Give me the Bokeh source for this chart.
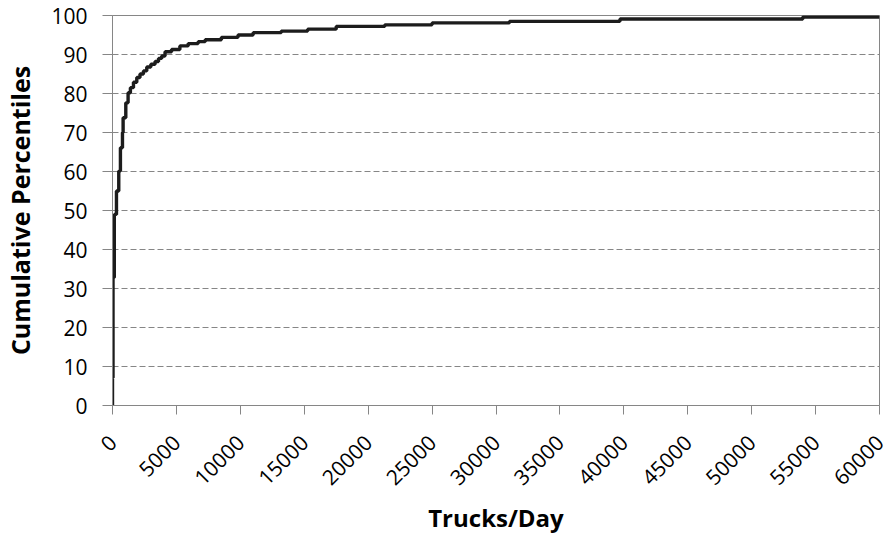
import math
from bokeh.plotting import figure
from bokeh.models import Range1d, FixedTicker, ColumnDataSource
from bokeh.embed import file_html
from bokeh.resources import INLINE

# Data (cumulative distribution, step after each value)
trucks_per_day = [0, 0, 40, 140, 310, 490, 620, 780, 830, 1040,
                  1220, 1400, 1640, 1900, 2150, 2420, 2680, 3000, 3330, 3600,
                  3850, 4110, 4620, 5270, 5920, 6700, 7250, 8520, 9820, 11000,
                  13200, 15270, 17500, 21300, 25000, 31050, 39700, 54000, 60000]
cumulative_pct = [0, 7.1, 32.8, 49.0, 55.0, 60.1, 66.1, 70.0, 73.8, 77.6,
                  80.2, 81.5, 82.9, 84.1, 85.0, 85.8, 86.8, 87.5, 88.2, 89.0,
                  89.6, 90.7, 91.3, 92.2, 92.8, 93.3, 93.8, 94.4, 95.0, 95.6,
                  96.0, 96.5, 97.2, 97.6, 98.1, 98.5, 99.1, 99.6, 99.6]

x_ticks = list(range(0, 60001, 5000))
y_ticks = list(range(0, 101, 10))
x_title = "Trucks/Day"
y_title = "Cumulative Percentiles"

FONT = "Open Sans"
AXIS_COLOR = "#868686"

p = figure(
    frame_width=767, frame_height=390,
    min_border_left=109, min_border_right=10, min_border_top=15, min_border_bottom=112,
    x_range=Range1d(0, 60000), y_range=Range1d(0, 100),
    output_backend="svg", toolbar_location=None,
    background_fill_color="white", border_fill_color="white",
)
p.outline_line_color = AXIS_COLOR
p.outline_line_width = 1

source = ColumnDataSource(dict(x=trucks_per_day, y=cumulative_pct))
p.step("x", "y", source=source, mode="after", line_color="#1c1c1c", line_width=3.4)

# grid
p.xgrid.visible = False
p.ygrid.ticker = FixedTicker(ticks=y_ticks)
p.ygrid.grid_line_color = AXIS_COLOR
p.ygrid.grid_line_dash = "6 3"
p.ygrid.grid_line_width = 1.2

# x axis
xa = p.xaxis[0]
xa.ticker = FixedTicker(ticks=x_ticks)
xa.major_label_orientation = math.pi / 4
xa.axis_label = x_title
xa.axis_label_text_font = FONT
xa.axis_label_text_font_style = "bold"
xa.axis_label_text_font_size = "24px"
xa.axis_label_text_color = "#000000"
xa.axis_label_standoff = 6
xa.major_label_text_font = FONT
xa.major_label_text_font_size = "21px"
xa.major_label_text_color = "#000000"
xa.major_label_standoff = 24
xa.axis_line_color = AXIS_COLOR
xa.major_tick_line_color = AXIS_COLOR
xa.major_tick_in = 0
xa.major_tick_out = 9
xa.minor_tick_line_color = None

# y axis
ya = p.yaxis[0]
ya.ticker = FixedTicker(ticks=y_ticks)
ya.axis_label = y_title
ya.axis_label_text_font = FONT
ya.axis_label_text_font_style = "bold"
ya.axis_label_text_font_size = "25px"
ya.axis_label_text_color = "#000000"
ya.axis_label_standoff = 11
ya.major_label_text_font = FONT
ya.major_label_text_font_size = "21px"
ya.major_label_text_color = "#000000"
ya.major_label_standoff = 15
ya.axis_line_color = AXIS_COLOR
ya.major_tick_line_color = AXIS_COLOR
ya.major_tick_in = 0
ya.major_tick_out = 10
ya.minor_tick_line_color = None

open("out.html", "w").write(file_html(p, INLINE))
